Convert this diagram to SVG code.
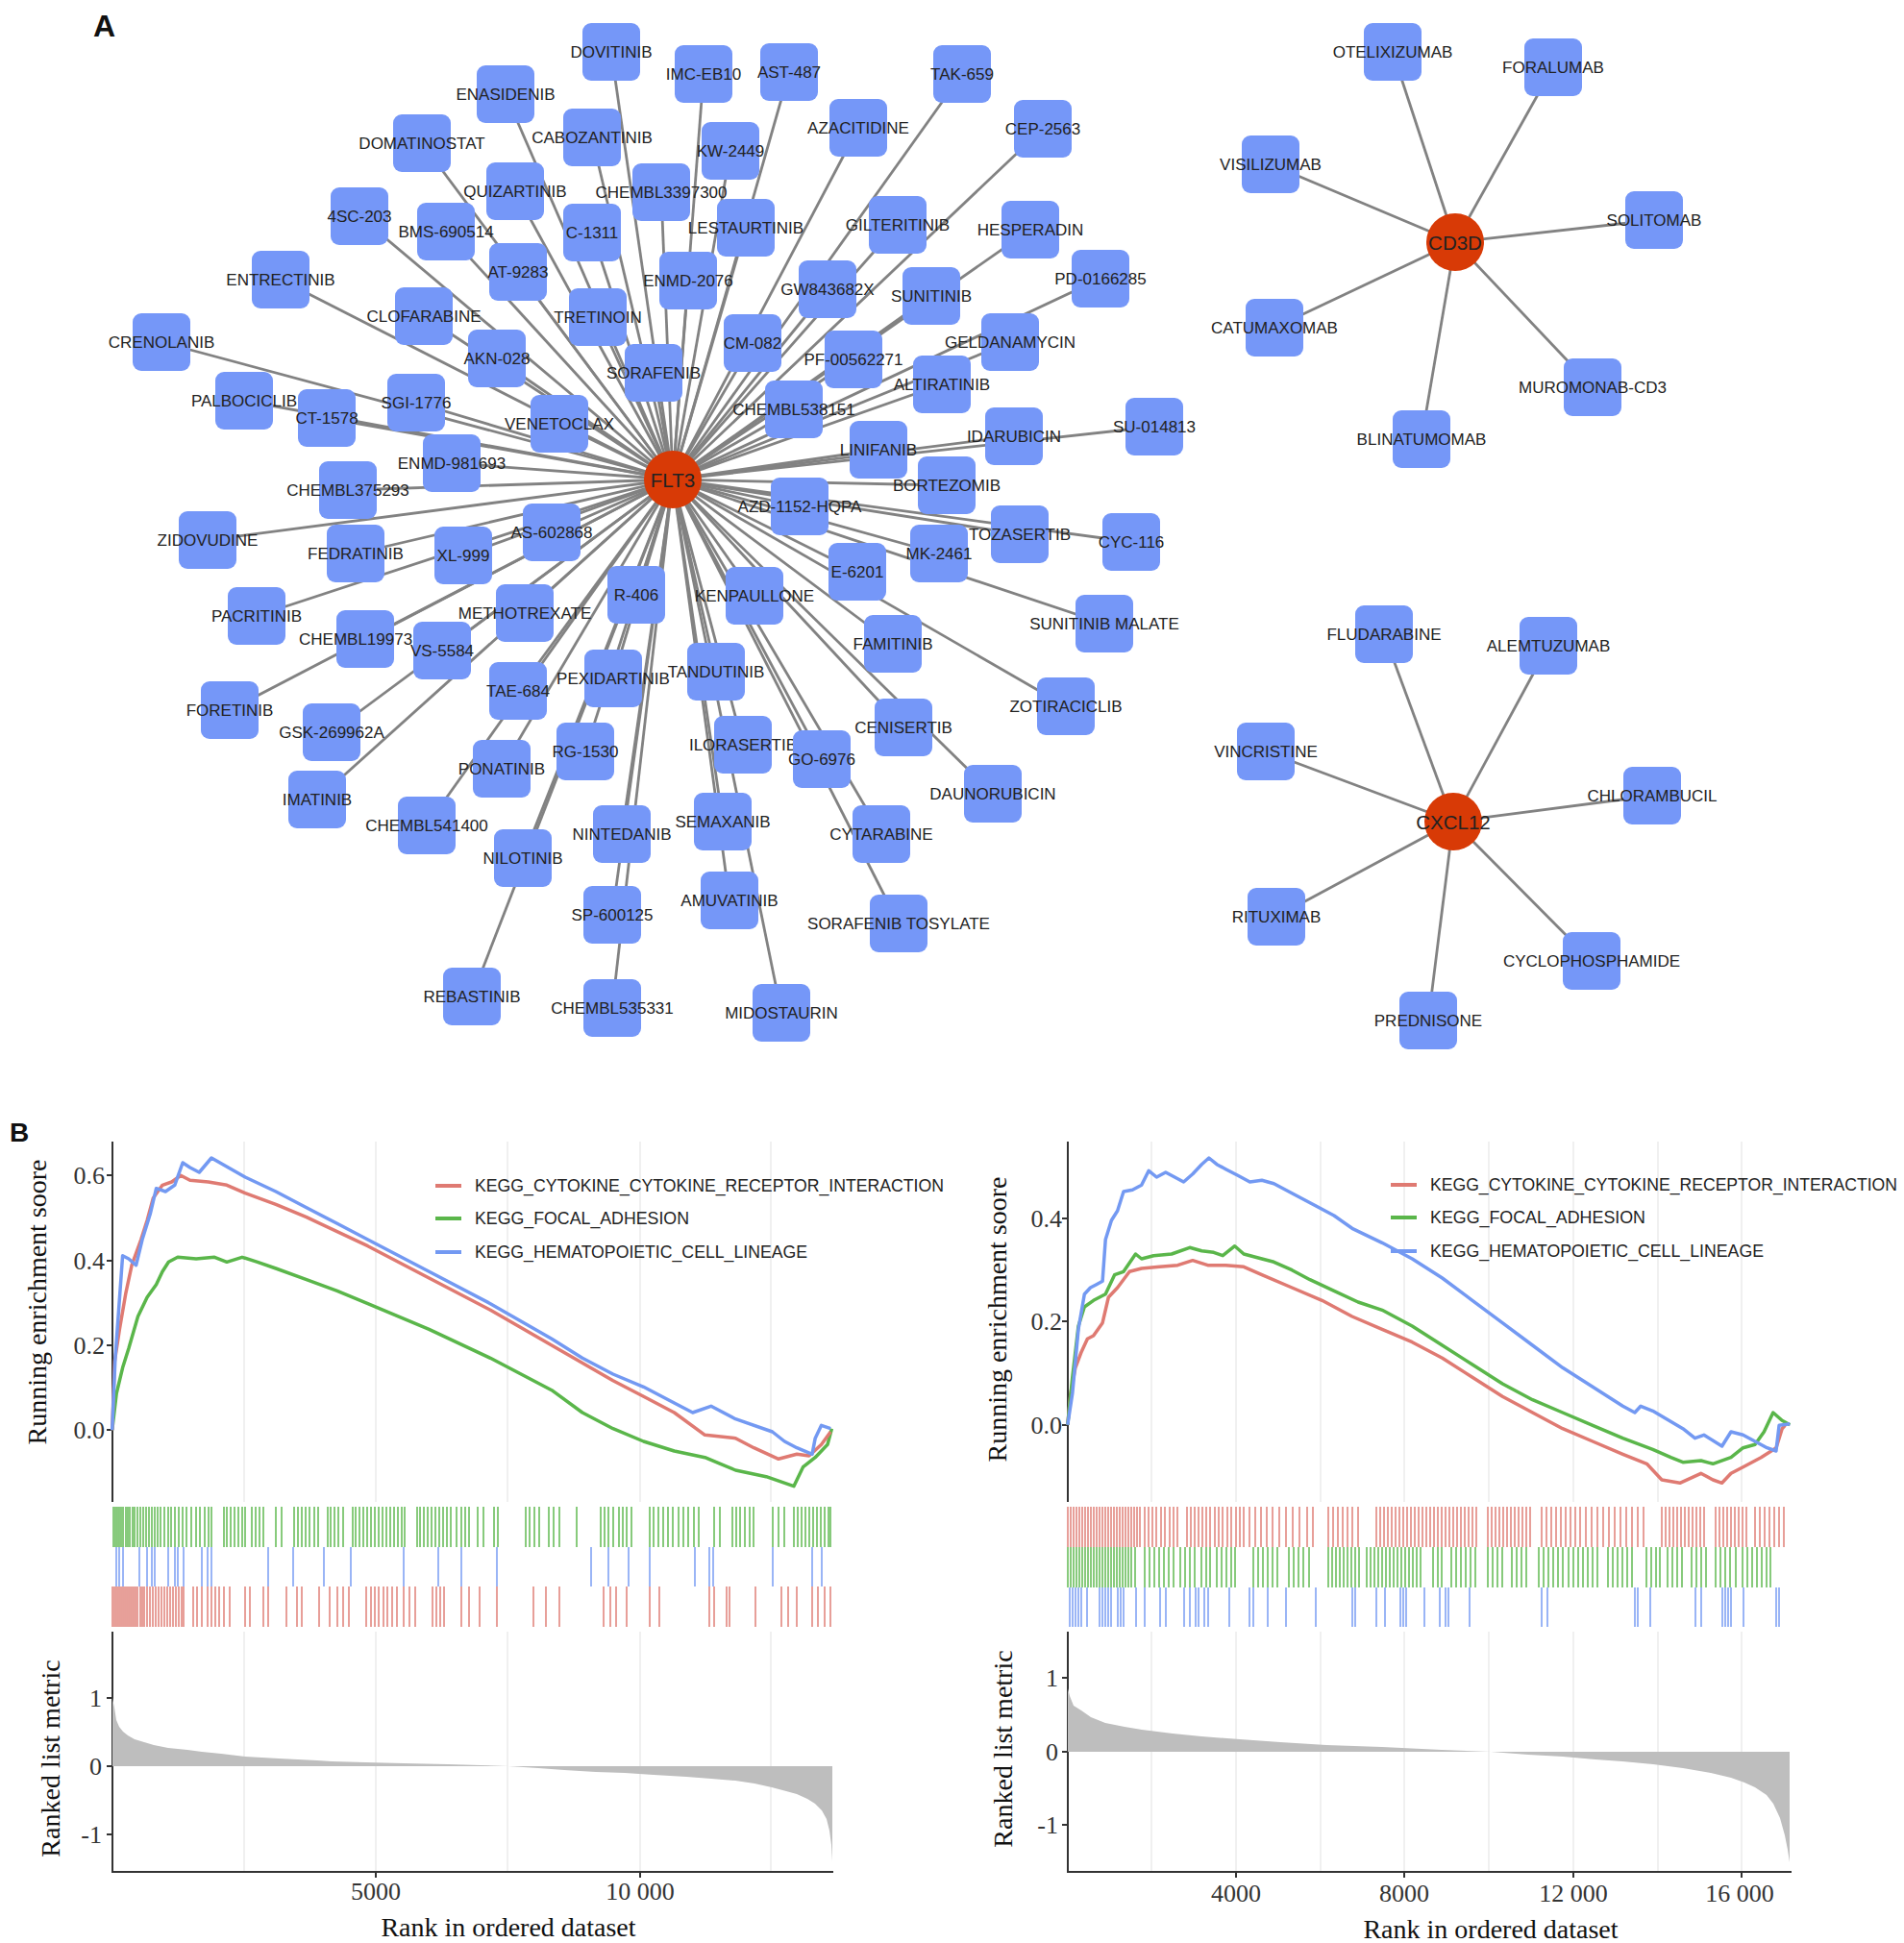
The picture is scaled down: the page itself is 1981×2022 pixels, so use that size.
<svg xmlns="http://www.w3.org/2000/svg" width="1981" height="2022" viewBox="0 0 1981 2022">
<style>
.e path{stroke:#828282;stroke-width:2.8;fill:none}
.n rect{fill:#7597f8}
.t{font-family:"Liberation Sans",Arial,sans-serif;font-size:17px;fill:#222;text-anchor:middle;dominant-baseline:central}
.h circle{fill:#d83a06}
.ht{font-family:"Liberation Sans",Arial,sans-serif;font-size:20.5px;fill:#222;text-anchor:middle;dominant-baseline:central}
.ax{stroke:#333;stroke-width:2;fill:none}
.gr{stroke:#ebebeb;stroke-width:1.5;fill:none}
.tk{font-family:"Liberation Serif","Times New Roman",serif;font-size:26px;fill:#333}
.ti{font-family:"Liberation Serif","Times New Roman",serif;font-size:28px;fill:#111;text-anchor:middle}
.lg{font-family:"Liberation Sans",Arial,sans-serif;font-size:17.6px;fill:#222}
.cv{fill:none;stroke-width:3.5;stroke-linejoin:round}
.hit{fill:none;stroke-width:1.8;opacity:0.8}
.pan{font-family:"Liberation Sans",Arial,sans-serif;font-weight:bold;fill:#111}
</style>

<text class="pan" x="97" y="38" font-size="32">A</text>
<text class="pan" x="10" y="1188" font-size="28">B</text>

<g id="edges" class="e">
<path d="M700 499L636 54"/><path d="M700 499L732 77"/><path d="M700 499L821 75"/><path d="M700 499L1001 77"/>
<path d="M700 499L526 98"/><path d="M700 499L616 143"/><path d="M700 499L439 149"/><path d="M700 499L893 133"/>
<path d="M700 499L1085 134"/><path d="M700 499L760 157"/><path d="M700 499L536 199"/><path d="M700 499L688 200"/>
<path d="M700 499L374 225"/><path d="M700 499L464 241"/><path d="M700 499L616 242"/><path d="M700 499L776 237"/>
<path d="M700 499L934 234"/><path d="M700 499L1072 239"/><path d="M700 499L539 283"/><path d="M700 499L292 291"/>
<path d="M700 499L716 292"/><path d="M700 499L861 301"/><path d="M700 499L969 308"/><path d="M700 499L1145 290"/>
<path d="M700 499L441 329"/><path d="M700 499L622 330"/><path d="M700 499L168 356"/><path d="M700 499L517 373"/>
<path d="M700 499L783 357"/><path d="M700 499L1051 356"/><path d="M700 499L888 374"/><path d="M700 499L680 388"/>
<path d="M700 499L980 400"/><path d="M700 499L254 417"/><path d="M700 499L433 419"/><path d="M700 499L340 435"/>
<path d="M700 499L582 441"/><path d="M700 499L826 426"/><path d="M700 499L1201 444"/><path d="M700 499L1055 454"/>
<path d="M700 499L914 468"/><path d="M700 499L470 482"/><path d="M700 499L985 505"/><path d="M700 499L362 510"/>
<path d="M700 499L832 527"/><path d="M700 499L574 554"/><path d="M700 499L1061 556"/><path d="M700 499L216 562"/>
<path d="M700 499L1177 564"/><path d="M700 499L370 576"/><path d="M700 499L482 578"/><path d="M700 499L977 576"/>
<path d="M700 499L892 595"/><path d="M700 499L662 619"/><path d="M700 499L785 620"/><path d="M700 499L546 638"/>
<path d="M700 499L267 641"/><path d="M700 499L1149 649"/><path d="M700 499L380 665"/><path d="M700 499L929 670"/>
<path d="M700 499L460 677"/><path d="M700 499L745 699"/><path d="M700 499L638 706"/><path d="M700 499L539 719"/>
<path d="M700 499L1109 735"/><path d="M700 499L239 739"/><path d="M700 499L940 757"/><path d="M700 499L345 762"/>
<path d="M700 499L773 775"/><path d="M700 499L609 782"/><path d="M700 499L855 790"/><path d="M700 499L522 800"/>
<path d="M700 499L1033 826"/><path d="M700 499L330 832"/><path d="M700 499L752 855"/><path d="M700 499L444 859"/>
<path d="M700 499L647 868"/><path d="M700 499L917 868"/><path d="M700 499L544 893"/><path d="M700 499L759 937"/>
<path d="M700 499L637 952"/><path d="M700 499L935 961"/><path d="M700 499L491 1037"/><path d="M700 499L637 1049"/>
<path d="M700 499L813 1054"/>
<path d="M1514 252L1449 54"/><path d="M1514 252L1616 70"/><path d="M1514 252L1322 171"/><path d="M1514 252L1721 229"/>
<path d="M1514 252L1326 341"/><path d="M1514 252L1657 403"/><path d="M1514 252L1479 457"/>
<path d="M1512 855L1440 660"/><path d="M1512 855L1611 672"/><path d="M1512 855L1317 782"/><path d="M1512 855L1719 828"/>
<path d="M1512 855L1328 954"/><path d="M1512 855L1656 1000"/><path d="M1512 855L1486 1062"/>
</g>

<g id="dovitinib" class="n"><rect x="606" y="24" width="60" height="60" rx="9"/><text class="t" x="636" y="54">DOVITINIB</text></g>
<g id="imc-eb10" class="n"><rect x="702" y="47" width="60" height="60" rx="9"/><text class="t" x="732" y="77">IMC-EB10</text></g>
<g id="ast-487" class="n"><rect x="791" y="45" width="60" height="60" rx="9"/><text class="t" x="821" y="75">AST-487</text></g>
<g id="tak-659" class="n"><rect x="971" y="47" width="60" height="60" rx="9"/><text class="t" x="1001" y="77">TAK-659</text></g>
<g id="enasidenib" class="n"><rect x="496" y="68" width="60" height="60" rx="9"/><text class="t" x="526" y="98">ENASIDENIB</text></g>
<g id="cabozantinib" class="n"><rect x="586" y="113" width="60" height="60" rx="9"/><text class="t" x="616" y="143">CABOZANTINIB</text></g>
<g id="domatinostat" class="n"><rect x="409" y="119" width="60" height="60" rx="9"/><text class="t" x="439" y="149">DOMATINOSTAT</text></g>
<g id="azacitidine" class="n"><rect x="863" y="103" width="60" height="60" rx="9"/><text class="t" x="893" y="133">AZACITIDINE</text></g>
<g id="cep-2563" class="n"><rect x="1055" y="104" width="60" height="60" rx="9"/><text class="t" x="1085" y="134">CEP-2563</text></g>
<g id="kw-2449" class="n"><rect x="730" y="127" width="60" height="60" rx="9"/><text class="t" x="760" y="157">KW-2449</text></g>
<g id="quizartinib" class="n"><rect x="506" y="169" width="60" height="60" rx="9"/><text class="t" x="536" y="199">QUIZARTINIB</text></g>
<g id="chembl3397300" class="n"><rect x="658" y="170" width="60" height="60" rx="9"/><text class="t" x="688" y="200">CHEMBL3397300</text></g>
<g id="4sc-203" class="n"><rect x="344" y="195" width="60" height="60" rx="9"/><text class="t" x="374" y="225">4SC-203</text></g>
<g id="bms-690514" class="n"><rect x="434" y="211" width="60" height="60" rx="9"/><text class="t" x="464" y="241">BMS-690514</text></g>
<g id="c-1311" class="n"><rect x="586" y="212" width="60" height="60" rx="9"/><text class="t" x="616" y="242">C-1311</text></g>
<g id="lestaurtinib" class="n"><rect x="746" y="207" width="60" height="60" rx="9"/><text class="t" x="776" y="237">LESTAURTINIB</text></g>
<g id="gilteritinib" class="n"><rect x="904" y="204" width="60" height="60" rx="9"/><text class="t" x="934" y="234">GILTERITINIB</text></g>
<g id="hesperadin" class="n"><rect x="1042" y="209" width="60" height="60" rx="9"/><text class="t" x="1072" y="239">HESPERADIN</text></g>
<g id="at-9283" class="n"><rect x="509" y="253" width="60" height="60" rx="9"/><text class="t" x="539" y="283">AT-9283</text></g>
<g id="entrectinib" class="n"><rect x="262" y="261" width="60" height="60" rx="9"/><text class="t" x="292" y="291">ENTRECTINIB</text></g>
<g id="enmd-2076" class="n"><rect x="686" y="262" width="60" height="60" rx="9"/><text class="t" x="716" y="292">ENMD-2076</text></g>
<g id="gw843682x" class="n"><rect x="831" y="271" width="60" height="60" rx="9"/><text class="t" x="861" y="301">GW843682X</text></g>
<g id="sunitinib" class="n"><rect x="939" y="278" width="60" height="60" rx="9"/><text class="t" x="969" y="308">SUNITINIB</text></g>
<g id="pd-0166285" class="n"><rect x="1115" y="260" width="60" height="60" rx="9"/><text class="t" x="1145" y="290">PD-0166285</text></g>
<g id="clofarabine" class="n"><rect x="411" y="299" width="60" height="60" rx="9"/><text class="t" x="441" y="329">CLOFARABINE</text></g>
<g id="tretinoin" class="n"><rect x="592" y="300" width="60" height="60" rx="9"/><text class="t" x="622" y="330">TRETINOIN</text></g>
<g id="crenolanib" class="n"><rect x="138" y="326" width="60" height="60" rx="9"/><text class="t" x="168" y="356">CRENOLANIB</text></g>
<g id="akn-028" class="n"><rect x="487" y="343" width="60" height="60" rx="9"/><text class="t" x="517" y="373">AKN-028</text></g>
<g id="cm-082" class="n"><rect x="753" y="327" width="60" height="60" rx="9"/><text class="t" x="783" y="357">CM-082</text></g>
<g id="geldanamycin" class="n"><rect x="1021" y="326" width="60" height="60" rx="9"/><text class="t" x="1051" y="356">GELDANAMYCIN</text></g>
<g id="pf-00562271" class="n"><rect x="858" y="344" width="60" height="60" rx="9"/><text class="t" x="888" y="374">PF-00562271</text></g>
<g id="sorafenib" class="n"><rect x="650" y="358" width="60" height="60" rx="9"/><text class="t" x="680" y="388">SORAFENIB</text></g>
<g id="altiratinib" class="n"><rect x="950" y="370" width="60" height="60" rx="9"/><text class="t" x="980" y="400">ALTIRATINIB</text></g>
<g id="palbociclib" class="n"><rect x="224" y="387" width="60" height="60" rx="9"/><text class="t" x="254" y="417">PALBOCICLIB</text></g>
<g id="sgi-1776" class="n"><rect x="403" y="389" width="60" height="60" rx="9"/><text class="t" x="433" y="419">SGI-1776</text></g>
<g id="ct-1578" class="n"><rect x="310" y="405" width="60" height="60" rx="9"/><text class="t" x="340" y="435">CT-1578</text></g>
<g id="venetoclax" class="n"><rect x="552" y="411" width="60" height="60" rx="9"/><text class="t" x="582" y="441">VENETOCLAX</text></g>
<g id="chembl538151" class="n"><rect x="796" y="396" width="60" height="60" rx="9"/><text class="t" x="826" y="426">CHEMBL538151</text></g>
<g id="su-014813" class="n"><rect x="1171" y="414" width="60" height="60" rx="9"/><text class="t" x="1201" y="444">SU-014813</text></g>
<g id="idarubicin" class="n"><rect x="1025" y="424" width="60" height="60" rx="9"/><text class="t" x="1055" y="454">IDARUBICIN</text></g>
<g id="linifanib" class="n"><rect x="884" y="438" width="60" height="60" rx="9"/><text class="t" x="914" y="468">LINIFANIB</text></g>
<g id="enmd-981693" class="n"><rect x="440" y="452" width="60" height="60" rx="9"/><text class="t" x="470" y="482">ENMD-981693</text></g>
<g id="bortezomib" class="n"><rect x="955" y="475" width="60" height="60" rx="9"/><text class="t" x="985" y="505">BORTEZOMIB</text></g>
<g id="chembl375293" class="n"><rect x="332" y="480" width="60" height="60" rx="9"/><text class="t" x="362" y="510">CHEMBL375293</text></g>
<g id="azd-1152-hqpa" class="n"><rect x="802" y="497" width="60" height="60" rx="9"/><text class="t" x="832" y="527">AZD-1152-HQPA</text></g>
<g id="as-602868" class="n"><rect x="544" y="524" width="60" height="60" rx="9"/><text class="t" x="574" y="554">AS-602868</text></g>
<g id="tozasertib" class="n"><rect x="1031" y="526" width="60" height="60" rx="9"/><text class="t" x="1061" y="556">TOZASERTIB</text></g>
<g id="zidovudine" class="n"><rect x="186" y="532" width="60" height="60" rx="9"/><text class="t" x="216" y="562">ZIDOVUDINE</text></g>
<g id="cyc-116" class="n"><rect x="1147" y="534" width="60" height="60" rx="9"/><text class="t" x="1177" y="564">CYC-116</text></g>
<g id="fedratinib" class="n"><rect x="340" y="546" width="60" height="60" rx="9"/><text class="t" x="370" y="576">FEDRATINIB</text></g>
<g id="xl-999" class="n"><rect x="452" y="548" width="60" height="60" rx="9"/><text class="t" x="482" y="578">XL-999</text></g>
<g id="mk-2461" class="n"><rect x="947" y="546" width="60" height="60" rx="9"/><text class="t" x="977" y="576">MK-2461</text></g>
<g id="e-6201" class="n"><rect x="862" y="565" width="60" height="60" rx="9"/><text class="t" x="892" y="595">E-6201</text></g>
<g id="r-406" class="n"><rect x="632" y="589" width="60" height="60" rx="9"/><text class="t" x="662" y="619">R-406</text></g>
<g id="kenpaullone" class="n"><rect x="755" y="590" width="60" height="60" rx="9"/><text class="t" x="785" y="620">KENPAULLONE</text></g>
<g id="methotrexate" class="n"><rect x="516" y="608" width="60" height="60" rx="9"/><text class="t" x="546" y="638">METHOTREXATE</text></g>
<g id="pacritinib" class="n"><rect x="237" y="611" width="60" height="60" rx="9"/><text class="t" x="267" y="641">PACRITINIB</text></g>
<g id="sunitinib-malate" class="n"><rect x="1119" y="619" width="60" height="60" rx="9"/><text class="t" x="1149" y="649">SUNITINIB MALATE</text></g>
<g id="chembl19973" class="n"><rect x="350" y="635" width="60" height="60" rx="9"/><text class="t" x="311" y="665" style="text-anchor:start">CHEMBL19973</text></g>
<g id="famitinib" class="n"><rect x="899" y="640" width="60" height="60" rx="9"/><text class="t" x="929" y="670">FAMITINIB</text></g>
<g id="vs-5584" class="n"><rect x="430" y="647" width="60" height="60" rx="9"/><text class="t" x="460" y="677">VS-5584</text></g>
<g id="tandutinib" class="n"><rect x="715" y="669" width="60" height="60" rx="9"/><text class="t" x="745" y="699">TANDUTINIB</text></g>
<g id="pexidartinib" class="n"><rect x="608" y="676" width="60" height="60" rx="9"/><text class="t" x="638" y="706">PEXIDARTINIB</text></g>
<g id="tae-684" class="n"><rect x="509" y="689" width="60" height="60" rx="9"/><text class="t" x="539" y="719">TAE-684</text></g>
<g id="zotiraciclib" class="n"><rect x="1079" y="705" width="60" height="60" rx="9"/><text class="t" x="1109" y="735">ZOTIRACICLIB</text></g>
<g id="foretinib" class="n"><rect x="209" y="709" width="60" height="60" rx="9"/><text class="t" x="239" y="739">FORETINIB</text></g>
<g id="cenisertib" class="n"><rect x="910" y="727" width="60" height="60" rx="9"/><text class="t" x="940" y="757">CENISERTIB</text></g>
<g id="gsk-269962a" class="n"><rect x="315" y="732" width="60" height="60" rx="9"/><text class="t" x="345" y="762">GSK-269962A</text></g>
<g id="ilorasertib" class="n"><rect x="743" y="745" width="60" height="60" rx="9"/><text class="t" x="773" y="775">ILORASERTIB</text></g>
<g id="rg-1530" class="n"><rect x="579" y="752" width="60" height="60" rx="9"/><text class="t" x="609" y="782">RG-1530</text></g>
<g id="go-6976" class="n"><rect x="825" y="760" width="60" height="60" rx="9"/><text class="t" x="855" y="790">GO-6976</text></g>
<g id="ponatinib" class="n"><rect x="492" y="770" width="60" height="60" rx="9"/><text class="t" x="522" y="800">PONATINIB</text></g>
<g id="daunorubicin" class="n"><rect x="1003" y="796" width="60" height="60" rx="9"/><text class="t" x="1033" y="826">DAUNORUBICIN</text></g>
<g id="imatinib" class="n"><rect x="300" y="802" width="60" height="60" rx="9"/><text class="t" x="330" y="832">IMATINIB</text></g>
<g id="semaxanib" class="n"><rect x="722" y="825" width="60" height="60" rx="9"/><text class="t" x="752" y="855">SEMAXANIB</text></g>
<g id="chembl541400" class="n"><rect x="414" y="829" width="60" height="60" rx="9"/><text class="t" x="444" y="859">CHEMBL541400</text></g>
<g id="nintedanib" class="n"><rect x="617" y="838" width="60" height="60" rx="9"/><text class="t" x="647" y="868">NINTEDANIB</text></g>
<g id="cytarabine" class="n"><rect x="887" y="838" width="60" height="60" rx="9"/><text class="t" x="917" y="868">CYTARABINE</text></g>
<g id="nilotinib" class="n"><rect x="514" y="863" width="60" height="60" rx="9"/><text class="t" x="544" y="893">NILOTINIB</text></g>
<g id="amuvatinib" class="n"><rect x="729" y="907" width="60" height="60" rx="9"/><text class="t" x="759" y="937">AMUVATINIB</text></g>
<g id="sp-600125" class="n"><rect x="607" y="922" width="60" height="60" rx="9"/><text class="t" x="637" y="952">SP-600125</text></g>
<g id="sorafenib-tosylate" class="n"><rect x="905" y="931" width="60" height="60" rx="9"/><text class="t" x="935" y="961">SORAFENIB TOSYLATE</text></g>
<g id="rebastinib" class="n"><rect x="461" y="1007" width="60" height="60" rx="9"/><text class="t" x="491" y="1037">REBASTINIB</text></g>
<g id="chembl535331" class="n"><rect x="607" y="1019" width="60" height="60" rx="9"/><text class="t" x="637" y="1049">CHEMBL535331</text></g>
<g id="midostaurin" class="n"><rect x="783" y="1024" width="60" height="60" rx="9"/><text class="t" x="813" y="1054">MIDOSTAURIN</text></g>
<g id="flt3" class="h"><circle cx="700" cy="499" r="30"/><text class="ht" x="700" y="499">FLT3</text></g>

<g id="otelixizumab" class="n"><rect x="1419" y="24" width="60" height="60" rx="9"/><text class="t" x="1449" y="54">OTELIXIZUMAB</text></g>
<g id="foralumab" class="n"><rect x="1586" y="40" width="60" height="60" rx="9"/><text class="t" x="1616" y="70">FORALUMAB</text></g>
<g id="visilizumab" class="n"><rect x="1292" y="141" width="60" height="60" rx="9"/><text class="t" x="1322" y="171">VISILIZUMAB</text></g>
<g id="solitomab" class="n"><rect x="1691" y="199" width="60" height="60" rx="9"/><text class="t" x="1721" y="229">SOLITOMAB</text></g>
<g id="catumaxomab" class="n"><rect x="1296" y="311" width="60" height="60" rx="9"/><text class="t" x="1326" y="341">CATUMAXOMAB</text></g>
<g id="muromonab-cd3" class="n"><rect x="1627" y="373" width="60" height="60" rx="9"/><text class="t" x="1657" y="403">MUROMONAB-CD3</text></g>
<g id="blinatumomab" class="n"><rect x="1449" y="427" width="60" height="60" rx="9"/><text class="t" x="1479" y="457">BLINATUMOMAB</text></g>
<g id="cd3d" class="h"><circle cx="1514" cy="252" r="30"/><text class="ht" x="1514" y="252">CD3D</text></g>

<g id="fludarabine" class="n"><rect x="1410" y="630" width="60" height="60" rx="9"/><text class="t" x="1440" y="660">FLUDARABINE</text></g>
<g id="alemtuzumab" class="n"><rect x="1581" y="642" width="60" height="60" rx="9"/><text class="t" x="1611" y="672">ALEMTUZUMAB</text></g>
<g id="vincristine" class="n"><rect x="1287" y="752" width="60" height="60" rx="9"/><text class="t" x="1317" y="782">VINCRISTINE</text></g>
<g id="chlorambucil" class="n"><rect x="1689" y="798" width="60" height="60" rx="9"/><text class="t" x="1719" y="828">CHLORAMBUCIL</text></g>
<g id="rituximab" class="n"><rect x="1298" y="924" width="60" height="60" rx="9"/><text class="t" x="1328" y="954">RITUXIMAB</text></g>
<g id="cyclophosphamide" class="n"><rect x="1626" y="970" width="60" height="60" rx="9"/><text class="t" x="1656" y="1000">CYCLOPHOSPHAMIDE</text></g>
<g id="prednisone" class="n"><rect x="1456" y="1032" width="60" height="60" rx="9"/><text class="t" x="1486" y="1062">PREDNISONE</text></g>
<g id="cxcl12" class="h"><circle cx="1512" cy="855" r="30"/><text class="ht" x="1512" y="855">CXCL12</text></g>

<!-- GSEA left -->
<g id="gsea-left">
<path class="gr" d="M254 1188V1563M391 1188V1563M528 1188V1563M666 1188V1563M802 1188V1563M254 1698V1947M391 1698V1947M528 1698V1947M666 1698V1947M802 1698V1947"/>
<path class="ax" d="M117 1188V1563M117 1698V1948H867M111 1223H117M111 1312H117M111 1400H117M111 1488H117M111 1767H117M111 1838H117M111 1909H117M391 1948V1954M666 1948V1954"/>
<text class="tk" x="109" y="1232" text-anchor="end">0.6</text>
<text class="tk" x="109" y="1321" text-anchor="end">0.4</text>
<text class="tk" x="109" y="1409" text-anchor="end">0.2</text>
<text class="tk" x="109" y="1497" text-anchor="end">0.0</text>
<text class="tk" x="106" y="1776" text-anchor="end">1</text>
<text class="tk" x="106" y="1847" text-anchor="end">0</text>
<text class="tk" x="106" y="1918" text-anchor="end">-1</text>
<text class="tk" x="391" y="1977" text-anchor="middle">5000</text>
<text class="tk" x="666" y="1977" text-anchor="middle">10 000</text>
<text class="ti" x="529" y="2015">Rank in ordered dataset</text>
<text class="ti" transform="translate(48 1355) rotate(-90)">Running enrichment soore</text>
<text class="ti" transform="translate(62 1830) rotate(-90)">Ranked list metric</text>
<polygon fill="#bebebe" points="117,1838 117,1767 119,1777 121,1790 124,1797 128,1802 133,1806 140,1810 150,1813 160,1816 175,1819 195,1821 210,1823 230,1825 255,1828 290,1830 330,1832 345,1833 380,1834 420,1835 466,1836 500,1837 529,1838 560,1840 587,1842 620,1844 650,1845 680,1847 714,1849 740,1851 765,1853 785,1856 803,1860 818,1864 829,1867 840,1872 848,1877 855,1884 860,1893 863,1905 865,1920 866,1937 866,1838"/>
<path class="hit" stroke="#5ab64a" d="M118 1568v42M120 1568v42M122 1568v42M124 1568v42M126 1568v42M128 1568v42M131 1568v42M133 1568v42M135 1568v42M138 1568v42M140 1568v42M143 1568v42M146 1568v42M149 1568v42M152 1568v42M155 1568v42M158 1568v42M161 1568v42M164 1568v42M167 1568v42M171 1568v42M175 1568v42M178 1568v42M182 1568v42M186 1568v42M190 1568v42M194 1568v42M199 1568v42M204 1568v42M208 1568v42M213 1568v42M217 1568v42M220 1568v42M233 1568v42M236 1568v42M240 1568v42M244 1568v42M248 1568v42M252 1568v42M255 1568v42M262 1568v42M266 1568v42M270 1568v42M274 1568v42M287 1568v42M293 1568v42M306 1568v42M310 1568v42M314 1568v42M318 1568v42M322 1568v42M327 1568v42M331 1568v42M341 1568v42M344 1568v42M348 1568v42M352 1568v42M357 1568v42M367 1568v42M370 1568v42M374 1568v42M378 1568v42M382 1568v42M386 1568v42M390 1568v42M394 1568v42M398 1568v42M402 1568v42M406 1568v42M410 1568v42M414 1568v42M418 1568v42M421 1568v42M434 1568v42M437 1568v42M441 1568v42M445 1568v42M449 1568v42M453 1568v42M457 1568v42M461 1568v42M465 1568v42M469 1568v42M475 1568v42M480 1568v42M484 1568v42M488 1568v42M497 1568v42M503 1568v42M514 1568v42M518 1568v42M547 1568v42M551 1568v42M556 1568v42M561 1568v42M571 1568v42M576 1568v42M582 1568v42M600 1568v42M625 1568v42M629 1568v42M633 1568v42M638 1568v42M644 1568v42M648 1568v42M652 1568v42M657 1568v42M676 1568v42M680 1568v42M685 1568v42M690 1568v42M695 1568v42M700 1568v42M706 1568v42M711 1568v42M716 1568v42M722 1568v42M727 1568v42M743 1568v42M749 1568v42M762 1568v42M766 1568v42M770 1568v42M775 1568v42M780 1568v42M784 1568v42M804 1568v42M810 1568v42M816 1568v42M826 1568v42M830 1568v42M834 1568v42M838 1568v42M842 1568v42M846 1568v42M850 1568v42M854 1568v42M858 1568v42M862 1568v42M864 1568v42"/>
<path class="hit" stroke="#7399f2" d="M121 1610v41M124 1610v41M128 1610v41M145 1610v41M153 1610v41M158 1610v41M161 1610v41M175 1610v41M182 1610v41M185 1610v41M191 1610v41M210 1610v41M216 1610v41M220 1610v41M279 1610v41M305 1610v41M337 1610v41M365 1610v41M420 1610v41M456 1610v41M480 1610v41M517 1610v41M615 1610v41M633 1610v41M654 1610v41M676 1610v41M723 1610v41M738 1610v41M742 1610v41M804 1610v41M845 1610v41M855 1610v41"/>
<path class="hit" stroke="#df7a72" d="M117 1651v42M119 1651v42M121 1651v42M123 1651v42M125 1651v42M127 1651v42M129 1651v42M131 1651v42M133 1651v42M135 1651v42M137 1651v42M139 1651v42M141 1651v42M143 1651v42M146 1651v42M148 1651v42M150 1651v42M153 1651v42M156 1651v42M159 1651v42M162 1651v42M165 1651v42M168 1651v42M171 1651v42M174 1651v42M177 1651v42M180 1651v42M183 1651v42M186 1651v42M189 1651v42M191 1651v42M201 1651v42M205 1651v42M210 1651v42M216 1651v42M220 1651v42M224 1651v42M228 1651v42M233 1651v42M239 1651v42M255 1651v42M260 1651v42M274 1651v42M279 1651v42M298 1651v42M309 1651v42M314 1651v42M332 1651v42M343 1651v42M351 1651v42M357 1651v42M363 1651v42M381 1651v42M386 1651v42M390 1651v42M394 1651v42M399 1651v42M403 1651v42M408 1651v42M413 1651v42M420 1651v42M426 1651v42M432 1651v42M450 1651v42M454 1651v42M458 1651v42M462 1651v42M480 1651v42M488 1651v42M499 1651v42M517 1651v42M555 1651v42M568 1651v42M582 1651v42M628 1651v42M635 1651v42M641 1651v42M652 1651v42M676 1651v42M686 1651v42M738 1651v42M743 1651v42M756 1651v42M759 1651v42M786 1651v42M813 1651v42M820 1651v42M829 1651v42M845 1651v42M851 1651v42M858 1651v42M864 1651v42"/>
<polyline class="cv" stroke="#5ab64a" points="116.7,1488.3 121.2,1450 127.6,1423.3 133.9,1403.3 143.5,1370 153.1,1350 162.6,1336.7 169,1323.3 175.4,1313.3 184.9,1308.3 204.1,1310 223.2,1308.3 236,1313.3 251.9,1308.3 267.9,1313.3 287,1320 318.9,1331.7 350.8,1343.3 382.7,1356.7 446.4,1383.3 510.2,1413.3 574,1446.7 605.9,1470 637.8,1486.7 669.6,1500 701.5,1510 733.4,1516.7 765.3,1530 797.2,1536.7 825.9,1546.7 835.5,1526.7 848.2,1516.7 861,1503.3 865.4,1486.7"/>
<polyline class="cv" stroke="#df7a72" points="116.7,1488.3 119.3,1416.7 124.4,1383.3 130.7,1346.7 137.1,1316.7 146.7,1290 153.1,1270 159.4,1246.7 169,1233.3 178.6,1230 188.1,1223.3 197.7,1228.3 216.8,1230 236,1233.3 255.1,1241.7 287,1253.3 318.9,1266.7 382.7,1296.7 446.4,1330 510.2,1363.3 574,1400 637.8,1436.7 669.6,1453.3 701.5,1470 733.4,1493.3 765.3,1496.7 784.4,1506.7 810,1518.3 829.1,1513.3 841.8,1515 854.6,1503.3 864.2,1490"/>
<polyline class="cv" stroke="#7399f2" points="116.7,1488.3 119.9,1413.3 127.6,1306.7 133.9,1310 141.6,1316.7 148,1290 156.3,1263.3 162.6,1236.7 172.2,1240 181.8,1233.3 190.1,1210 197.7,1215 207.3,1220 220,1205 255.1,1225 287,1240 318.9,1256.7 350.8,1273.3 382.7,1290 446.4,1323.3 510.2,1356.7 574,1393.3 605.9,1413.3 637.8,1430 669.6,1443.3 701.5,1460 720.7,1470 739.8,1463.3 765.3,1476.7 803.6,1490 816.3,1500 829.1,1506.7 845,1513.3 848.2,1496.7 854.6,1483.3 864.2,1486.7"/>
<path stroke="#df7a72" stroke-width="4" d="M453 1234H480"/>
<path stroke="#5ab64a" stroke-width="4" d="M453 1268H480"/>
<path stroke="#7399f2" stroke-width="4" d="M453 1303H480"/>
<text class="lg" x="494" y="1240" textLength="488" lengthAdjust="spacingAndGlyphs">KEGG_CYTOKINE_CYTOKINE_RECEPTOR_INTERACTION</text>
<text class="lg" x="494" y="1274" textLength="223" lengthAdjust="spacingAndGlyphs">KEGG_FOCAL_ADHESION</text>
<text class="lg" x="494" y="1309" textLength="346" lengthAdjust="spacingAndGlyphs">KEGG_HEMATOPOIETIC_CELL_LINEAGE</text>
</g>

<!-- GSEA right -->
<g id="gsea-right">
<path class="gr" d="M1198 1188V1563M1286 1188V1563M1374 1188V1563M1461 1188V1563M1549 1188V1563M1637 1188V1563M1725 1188V1563M1812 1188V1563M1198 1698V1947M1286 1698V1947M1374 1698V1947M1461 1698V1947M1549 1698V1947M1637 1698V1947M1725 1698V1947M1812 1698V1947"/>
<path class="ax" d="M1111 1188V1563M1111 1698V1948H1864M1105 1268H1111M1105 1375H1111M1105 1483H1111M1105 1746H1111M1105 1823H1111M1105 1899H1111M1286 1948V1954M1461 1948V1954M1637 1948V1954M1812 1948V1954"/>
<text class="tk" x="1105" y="1277" text-anchor="end">0.4</text>
<text class="tk" x="1105" y="1384" text-anchor="end">0.2</text>
<text class="tk" x="1105" y="1492" text-anchor="end">0.0</text>
<text class="tk" x="1101" y="1755" text-anchor="end">1</text>
<text class="tk" x="1101" y="1832" text-anchor="end">0</text>
<text class="tk" x="1101" y="1908" text-anchor="end">-1</text>
<text class="tk" x="1286" y="1979" text-anchor="middle">4000</text>
<text class="tk" x="1461" y="1979" text-anchor="middle">8000</text>
<text class="tk" x="1637" y="1979" text-anchor="middle">12 000</text>
<text class="tk" x="1810" y="1979" text-anchor="middle">16 000</text>
<text class="ti" x="1551" y="2017">Rank in ordered dataset</text>
<text class="ti" transform="translate(1047 1373) rotate(-90)">Running enrichment soore</text>
<text class="ti" transform="translate(1053 1820) rotate(-90)">Ranked list metric</text>
<polygon fill="#bebebe" points="1111,1823 1111,1757 1113,1765 1117,1775 1125,1780 1135,1787 1150,1793 1170,1797 1188,1800 1220,1804 1250,1807 1290,1810 1332,1813 1380,1816 1438,1818 1500,1821 1551,1823 1590,1826 1626,1828 1660,1831 1688,1833 1720,1836 1751,1840 1780,1845 1801,1850 1815,1855 1826,1860 1838,1868 1845,1877 1852,1892 1857,1910 1860,1925 1862,1938 1862,1823"/>
<path class="hit" stroke="#df7a72" d="M1111 1568v42M1114 1568v42M1117 1568v42M1120 1568v42M1123 1568v42M1126 1568v42M1129 1568v42M1132 1568v42M1135 1568v42M1138 1568v42M1141 1568v42M1144 1568v42M1147 1568v42M1150 1568v42M1153 1568v42M1156 1568v42M1159 1568v42M1162 1568v42M1165 1568v42M1168 1568v42M1171 1568v42M1174 1568v42M1177 1568v42M1180 1568v42M1183 1568v42M1186 1568v42M1191 1568v42M1195 1568v42M1199 1568v42M1203 1568v42M1208 1568v42M1212 1568v42M1217 1568v42M1221 1568v42M1225 1568v42M1235 1568v42M1239 1568v42M1243 1568v42M1247 1568v42M1251 1568v42M1255 1568v42M1259 1568v42M1264 1568v42M1268 1568v42M1272 1568v42M1277 1568v42M1281 1568v42M1286 1568v42M1290 1568v42M1294 1568v42M1300 1568v42M1306 1568v42M1312 1568v42M1318 1568v42M1324 1568v42M1331 1568v42M1338 1568v42M1345 1568v42M1352 1568v42M1360 1568v42M1366 1568v42M1382 1568v42M1387 1568v42M1392 1568v42M1397 1568v42M1402 1568v42M1407 1568v42M1413 1568v42M1432 1568v42M1436 1568v42M1440 1568v42M1444 1568v42M1448 1568v42M1452 1568v42M1456 1568v42M1460 1568v42M1464 1568v42M1468 1568v42M1472 1568v42M1476 1568v42M1480 1568v42M1484 1568v42M1488 1568v42M1492 1568v42M1496 1568v42M1500 1568v42M1504 1568v42M1508 1568v42M1512 1568v42M1516 1568v42M1520 1568v42M1524 1568v42M1528 1568v42M1532 1568v42M1536 1568v42M1548 1568v42M1552 1568v42M1556 1568v42M1560 1568v42M1564 1568v42M1568 1568v42M1572 1568v42M1576 1568v42M1580 1568v42M1584 1568v42M1588 1568v42M1592 1568v42M1604 1568v42M1609 1568v42M1614 1568v42M1619 1568v42M1624 1568v42M1629 1568v42M1634 1568v42M1639 1568v42M1644 1568v42M1650 1568v42M1656 1568v42M1662 1568v42M1668 1568v42M1674 1568v42M1680 1568v42M1686 1568v42M1692 1568v42M1698 1568v42M1704 1568v42M1710 1568v42M1729 1568v42M1733 1568v42M1737 1568v42M1741 1568v42M1745 1568v42M1749 1568v42M1753 1568v42M1757 1568v42M1761 1568v42M1765 1568v42M1769 1568v42M1773 1568v42M1785 1568v42M1789 1568v42M1793 1568v42M1797 1568v42M1801 1568v42M1805 1568v42M1809 1568v42M1813 1568v42M1817 1568v42M1826 1568v42M1831 1568v42M1836 1568v42M1841 1568v42M1846 1568v42M1851 1568v42M1856 1568v42"/>
<path class="hit" stroke="#5ab64a" d="M1111 1610v42M1114 1610v42M1117 1610v42M1120 1610v42M1123 1610v42M1126 1610v42M1129 1610v42M1132 1610v42M1135 1610v42M1138 1610v42M1141 1610v42M1144 1610v42M1147 1610v42M1150 1610v42M1153 1610v42M1156 1610v42M1159 1610v42M1162 1610v42M1165 1610v42M1168 1610v42M1171 1610v42M1174 1610v42M1177 1610v42M1181 1610v42M1191 1610v42M1196 1610v42M1201 1610v42M1206 1610v42M1211 1610v42M1216 1610v42M1221 1610v42M1228 1610v42M1233 1610v42M1238 1610v42M1243 1610v42M1250 1610v42M1255 1610v42M1259 1610v42M1266 1610v42M1271 1610v42M1276 1610v42M1281 1610v42M1285 1610v42M1304 1610v42M1309 1610v42M1314 1610v42M1319 1610v42M1324 1610v42M1329 1610v42M1341 1610v42M1346 1610v42M1351 1610v42M1356 1610v42M1362 1610v42M1382 1610v42M1386 1610v42M1390 1610v42M1394 1610v42M1398 1610v42M1402 1610v42M1406 1610v42M1410 1610v42M1414 1610v42M1422 1610v42M1426 1610v42M1430 1610v42M1434 1610v42M1438 1610v42M1442 1610v42M1446 1610v42M1450 1610v42M1454 1610v42M1458 1610v42M1462 1610v42M1466 1610v42M1470 1610v42M1474 1610v42M1478 1610v42M1491 1610v42M1496 1610v42M1500 1610v42M1510 1610v42M1515 1610v42M1520 1610v42M1525 1610v42M1530 1610v42M1535 1610v42M1548 1610v42M1553 1610v42M1558 1610v42M1563 1610v42M1573 1610v42M1578 1610v42M1583 1610v42M1588 1610v42M1601 1610v42M1606 1610v42M1611 1610v42M1616 1610v42M1621 1610v42M1626 1610v42M1632 1610v42M1637 1610v42M1642 1610v42M1647 1610v42M1652 1610v42M1657 1610v42M1662 1610v42M1673 1610v42M1678 1610v42M1683 1610v42M1688 1610v42M1693 1610v42M1698 1610v42M1713 1610v42M1718 1610v42M1723 1610v42M1727 1610v42M1735 1610v42M1740 1610v42M1745 1610v42M1750 1610v42M1760 1610v42M1765 1610v42M1770 1610v42M1775 1610v42M1785 1610v42M1790 1610v42M1795 1610v42M1800 1610v42M1806 1610v42M1813 1610v42M1818 1610v42M1823 1610v42M1828 1610v42M1833 1610v42M1838 1610v42M1842 1610v42"/>
<path class="hit" stroke="#7399f2" d="M1113 1652v41M1116 1652v41M1119 1652v41M1122 1652v41M1125 1652v41M1131 1652v41M1144 1652v41M1147 1652v41M1150 1652v41M1153 1652v41M1156 1652v41M1163 1652v41M1166 1652v41M1169 1652v41M1182 1652v41M1191 1652v41M1207 1652v41M1213 1652v41M1232 1652v41M1238 1652v41M1244 1652v41M1247 1652v41M1253 1652v41M1257 1652v41M1279 1652v41M1300 1652v41M1304 1652v41M1319 1652v41M1338 1652v41M1369 1652v41M1407 1652v41M1410 1652v41M1432 1652v41M1441 1652v41M1457 1652v41M1460 1652v41M1463 1652v41M1482 1652v41M1498 1652v41M1504 1652v41M1507 1652v41M1529 1652v41M1604 1652v41M1610 1652v41M1701 1652v41M1704 1652v41M1717 1652v41M1764 1652v41M1770 1652v41M1792 1652v41M1795 1652v41M1798 1652v41M1801 1652v41M1814 1652v41M1848 1652v41M1851 1652v41"/>
<polyline class="cv" stroke="#df7a72" points="1110.8,1482.7 1113.9,1450 1118.9,1423.3 1125.2,1406.7 1131.4,1393.3 1137.7,1390 1147.1,1376.7 1153.3,1350 1162.7,1340 1175.2,1323.3 1187.7,1320 1206.5,1318.3 1225.3,1316.7 1240.9,1311.7 1256.6,1316.7 1275.3,1316.7 1294.1,1318.3 1312.9,1326.7 1344.2,1340 1375.5,1353.3 1406.8,1370 1438,1383.3 1469.3,1396.7 1500.6,1413.3 1531.9,1433.3 1563.2,1453.3 1594.5,1470 1625.8,1486.7 1657.1,1500 1688.4,1513.3 1713.4,1523.3 1729,1540 1747.8,1543.3 1769.7,1533.3 1782.2,1540 1791.6,1543.3 1801,1533.3 1813.5,1526.7 1832.3,1516.7 1848,1506.7 1854.2,1486.7 1857.3,1483.3"/>
<polyline class="cv" stroke="#5ab64a" points="1110.8,1482.7 1115.8,1433.3 1122,1380 1128.3,1360 1137.7,1353.3 1150.2,1346.7 1159.6,1326.7 1169,1323.3 1181.5,1305 1187.7,1310 1200.3,1306.7 1219,1305 1237.8,1298.3 1250.3,1301.7 1262.8,1303.3 1272.2,1306.7 1284.7,1296.7 1294.1,1305 1312.9,1310 1325.4,1313.3 1344.2,1321.7 1362.9,1331.7 1388,1343.3 1413,1355 1438,1363.3 1469.3,1380 1500.6,1400 1531.9,1420 1563.2,1440 1594.5,1456.7 1625.8,1470 1657.1,1483.3 1688.4,1496.7 1719.6,1508.3 1738.4,1516.7 1750.9,1521.7 1769.7,1520 1782.2,1523.3 1801,1516.7 1813.5,1506.7 1826,1503.3 1835.4,1490 1844.8,1470 1854.2,1478.3 1862.3,1482.7"/>
<polyline class="cv" stroke="#7399f2" points="1110.8,1482.7 1115.8,1450 1122,1383.3 1128.3,1346.7 1134.5,1340 1140.8,1336.7 1147.1,1333.3 1150.2,1290 1156.4,1270 1162.7,1260 1169,1240 1178.3,1238.3 1187.7,1233.3 1195.2,1218.3 1203.4,1225 1212.8,1220 1222.2,1225 1231.5,1230 1240.9,1221.7 1250.3,1211.7 1257.8,1205 1266,1211.7 1275.3,1216.7 1287.9,1223.3 1300.4,1230 1312.9,1228.3 1325.4,1231.7 1344.2,1241.7 1369.2,1255 1388,1265 1406.8,1278.3 1438,1293.3 1469.3,1310 1500.6,1330 1531.9,1353.3 1563.2,1376.7 1594.5,1400 1625.8,1423.3 1657.1,1443.3 1688.4,1463.3 1700.9,1470 1707.1,1463.3 1719.6,1468.3 1750.9,1486.7 1763.5,1496.7 1772.8,1493.3 1791.6,1505 1801,1490 1813.5,1493.3 1826,1500 1838.5,1506.7 1847.9,1510 1851.1,1483.3 1862.3,1481.7"/>
<path stroke="#df7a72" stroke-width="4" d="M1447 1233H1474"/>
<path stroke="#5ab64a" stroke-width="4" d="M1447 1267H1474"/>
<path stroke="#7399f2" stroke-width="4" d="M1447 1302H1474"/>
<text class="lg" x="1488" y="1239" textLength="486" lengthAdjust="spacingAndGlyphs">KEGG_CYTOKINE_CYTOKINE_RECEPTOR_INTERACTION</text>
<text class="lg" x="1488" y="1273" textLength="224" lengthAdjust="spacingAndGlyphs">KEGG_FOCAL_ADHESION</text>
<text class="lg" x="1488" y="1308" textLength="347" lengthAdjust="spacingAndGlyphs">KEGG_HEMATOPOIETIC_CELL_LINEAGE</text>
</g>
</svg>
